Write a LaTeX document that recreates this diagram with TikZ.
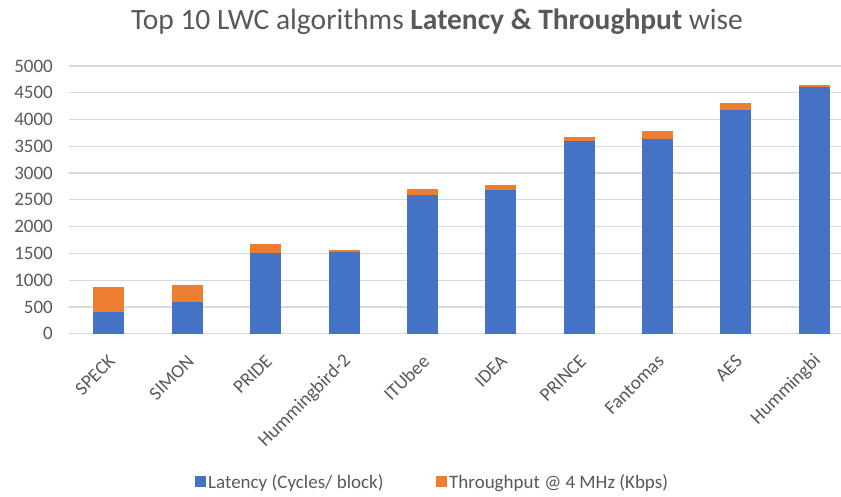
\documentclass[tikz,border=0pt]{standalone}
\usepackage{fontspec}
\setmainfont{Carlito}
\definecolor{txtgray}{HTML}{595959}
\definecolor{gridgray}{HTML}{D9D9D9}
\definecolor{latblue}{HTML}{4472C4}
\definecolor{throrange}{HTML}{ED7D31}
\begin{document}
\begin{tikzpicture}[x=1pt,y=-1pt,
  ylab/.style={anchor=east,text=txtgray,font=\fontsize{19}{19}\selectfont,inner sep=0pt},
  xlab/.style={anchor=east,rotate=45,text=txtgray,font=\fontsize{19}{19}\selectfont,inner sep=0pt},
  leglab/.style={anchor=base west,text=txtgray,font=\fontsize{19}{19}\selectfont,inner sep=0pt},
  gridline/.style={draw=gridgray,line width=1.3pt},
  latbar/.style={fill=latblue},
  thrbar/.style={fill=throrange}]
\useasboundingbox (0,0) rectangle (841,497);
\fill[white] (0,0) rectangle (841,497);
% title
\node[anchor=base,text=txtgray,font=\fontsize{29.5}{29.5}\selectfont,inner sep=0pt] (title) at (437,30)
  {Top 10 LWC algorithms \textbf{Latency \& Throughput} wise};
% gridlines and y labels
\foreach \v [count=\i] in {0,500,...,5000}{
  \pgfmathsetmacro{\yy}{333.7-\v*0.05354}
  \draw[gridline] (69,\yy) -- (841,\yy);
  \node[ylab] (y\i) at (53,\yy) {\v};
}
% bars
\foreach \cx/\lat/\tot/\lab [count=\i] in {
  108/400/872/SPECK,
  187/600/904/SIMON,
  265/1500/1670/PRIDE,
  344/1530/1557/Hummingbird-2,
  422/2590/2710/ITUbee,
  500/2690/2775/IDEA,
  579/3600/3680/PRINCE,
  657/3635/3786/Fantomas,
  735/4185/4305/AES,
  814/4615/4652/Hummingbi}{
  \pgfmathsetmacro{\yl}{333.7-\lat*0.05354}
  \pgfmathsetmacro{\yt}{333.7-\tot*0.05354}
  \fill[thrbar] (\cx-15.5,\yl) rectangle (\cx+15.5,\yt);
  \fill[latbar] (\cx-15.5,333.7) rectangle (\cx+15.5,\yl);
  \node[xlab] (x\i) at (\cx+4,358) {\lab};
}
% legend
\fill[latblue] (195,476) rectangle (206,487);
\node[leglab] (leg1) at (208,488) {Latency (Cycles/ block)};
\fill[throrange] (436,476) rectangle (447,487);
\node[leglab] (leg2) at (449,488) {Throughput @ 4 MHz (Kbps)};
\end{tikzpicture}
\end{document}
